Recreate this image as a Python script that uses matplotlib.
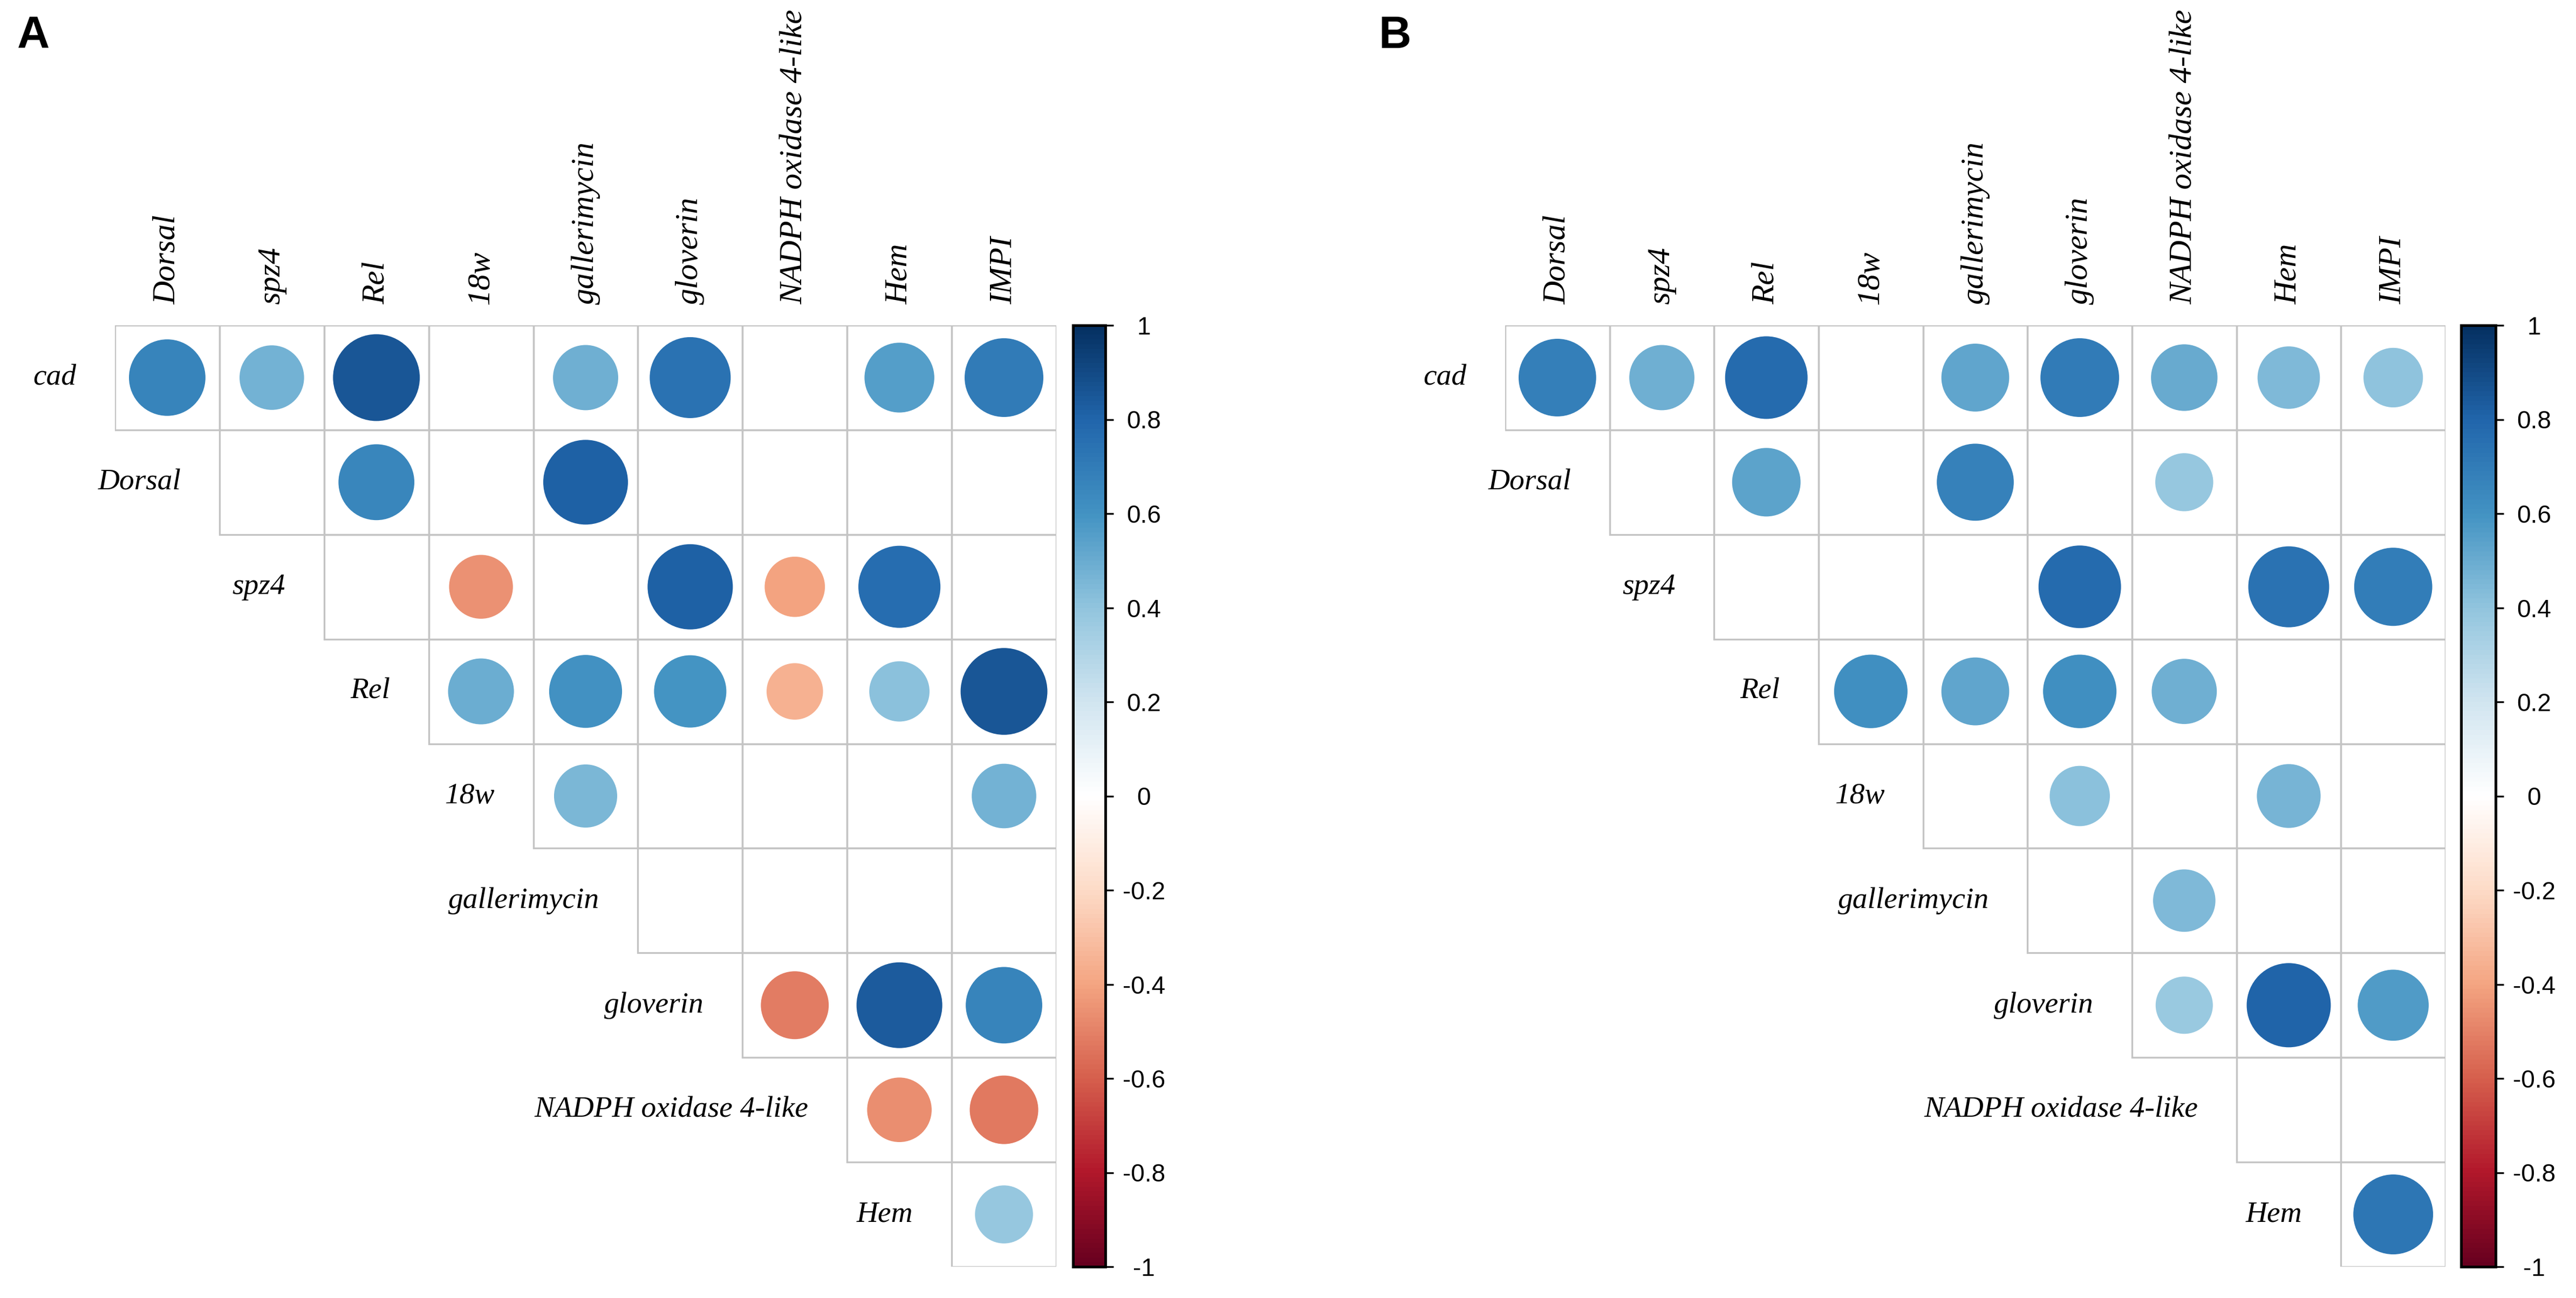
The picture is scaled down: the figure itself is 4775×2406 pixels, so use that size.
import numpy as np
import matplotlib
matplotlib.use("Agg")
import matplotlib.pyplot as plt
from matplotlib.colors import LinearSegmentedColormap, Normalize
from matplotlib.patches import Circle, Rectangle
from matplotlib.cm import ScalarMappable

nan = np.nan

# Genes on the rows (upper triangle, diagonal left out) and on the columns
row_labels = ["cad", "Dorsal", "spz4", "Rel", "18w", "gallerimycin",
              "gloverin", "NADPH oxidase 4-like", "Hem"]
col_labels = ["Dorsal", "spz4", "Rel", "18w", "gallerimycin", "gloverin",
              "NADPH oxidase 4-like", "Hem", "IMPI"]

# Panel A correlations (blank = not significant)
corr_a = [
    [0.66, 0.47, 0.85, nan, 0.48, 0.74, nan, 0.55, 0.70],
    [nan, nan, 0.65, nan, 0.81, nan, nan, nan, nan],
    [nan, nan, nan, -0.46, nan, 0.82, -0.41, 0.76, nan],
    [nan, nan, nan, 0.49, 0.60, 0.59, -0.36, 0.41, 0.85],
    [nan, nan, nan, nan, 0.45, nan, nan, nan, 0.47],
    [nan, nan, nan, nan, nan, nan, nan, nan, nan],
    [nan, nan, nan, nan, nan, nan, -0.52, 0.83, 0.66],
    [nan, nan, nan, nan, nan, nan, nan, -0.47, -0.53],
    [nan, nan, nan, nan, nan, nan, nan, nan, 0.38],
]

# Panel B correlations
corr_b = [
    [0.68, 0.48, 0.77, nan, 0.52, 0.70, 0.50, 0.44, 0.40],
    [nan, nan, 0.53, nan, 0.67, nan, 0.38, nan, nan],
    [nan, nan, nan, nan, nan, 0.77, nan, 0.74, 0.69],
    [nan, nan, nan, 0.61, 0.52, 0.61, 0.48, nan, nan],
    [nan, nan, nan, nan, nan, 0.41, nan, 0.46, nan],
    [nan, nan, nan, nan, nan, nan, 0.44, nan, nan],
    [nan, nan, nan, nan, nan, nan, 0.37, 0.80, 0.57],
    [nan, nan, nan, nan, nan, nan, nan, nan, nan],
    [nan, nan, nan, nan, nan, nan, nan, nan, 0.72],
]

cbar_ticks = [-1, -0.8, -0.6, -0.4, -0.2, 0, 0.2, 0.4, 0.6, 0.8, 1]
cbar_labels = ["-1", "-0.8", "-0.6", "-0.4", "-0.2", "0",
               "0.2", "0.4", "0.6", "0.8", "1"]

# corrplot's RdBu ramp
cmap = LinearSegmentedColormap.from_list("corr_rdbu", [
    "#67001F", "#B2182B", "#D6604D", "#F4A582", "#FDDBC7", "#FFFFFF",
    "#D1E5F0", "#92C5DE", "#4393C3", "#2166AC", "#053061"], N=200)
norm = Normalize(-1, 1)

W, H = 4775, 2406
fig = plt.figure(figsize=(W / 300, H / 300), dpi=300)

serif = ["Liberation Serif", "DejaVu Serif"]
grid_col = "#c4c4c4"


def px_axes(x0, y0, x1, y1):
    """Axes placed by pixel box (left, top, right, bottom)."""
    return fig.add_axes([x0 / W, 1 - y1 / H, (x1 - x0) / W, (y1 - y0) / H])


def draw_corr(ax, corr):
    n = len(row_labels)
    ax.set_xlim(0, n)
    ax.set_ylim(n, 0)
    ax.axis("off")
    for i in range(n):
        for j in range(i, n):
            ax.add_patch(Rectangle((j, i), 1, 1, fill=False, ec=grid_col,
                                   lw=0.8, zorder=1))
            v = corr[i][j]
            if not np.isnan(v):
                ax.add_patch(Circle((j + 0.5, i + 0.5), 0.45 * np.sqrt(abs(v)),
                                    fc=cmap(norm(v)), ec="none", zorder=2))
        ax.text(i - 0.37, i + 0.5, row_labels[i], ha="right", va="center",
                family=serif, style="italic", fontsize=13.3, clip_on=False)
    for j, lab in enumerate(col_labels):
        ax.text(j + 0.5, -0.2, lab, rotation=90, ha="center", va="bottom",
                family=serif, style="italic", fontsize=14.3, clip_on=False)


def draw_cbar(cax, fam):
    cb = fig.colorbar(ScalarMappable(norm=norm, cmap=cmap), cax=cax,
                      ticks=cbar_ticks)
    cb.set_ticklabels(cbar_labels)
    cb.outline.set_linewidth(1.2)
    cax.tick_params(length=3.6, width=0.8, pad=13.5, labelsize=11)
    for t in cax.get_yticklabels():
        t.set_horizontalalignment("center")
        t.set_family(fam)


ax_a = px_axes(213, 603, 1958, 2348)
draw_corr(ax_a, corr_a)
draw_cbar(px_axes(1989, 603, 2049, 2348), ["Liberation Sans", "DejaVu Sans"])

ax_b = px_axes(2790, 603, 4533, 2348)
draw_corr(ax_b, corr_b)
draw_cbar(px_axes(4562, 603, 4626, 2348),
          ["Liberation Sans Narrow", "Liberation Sans", "DejaVu Sans"])

for x, lab in [(32, "A"), (2555, "B")]:
    fig.text(x / W, 1 - 28 / H, lab, ha="left", va="top", fontsize=20,
             weight="bold", family=["Liberation Sans", "DejaVu Sans"])

fig.savefig("out.png", dpi=300)
